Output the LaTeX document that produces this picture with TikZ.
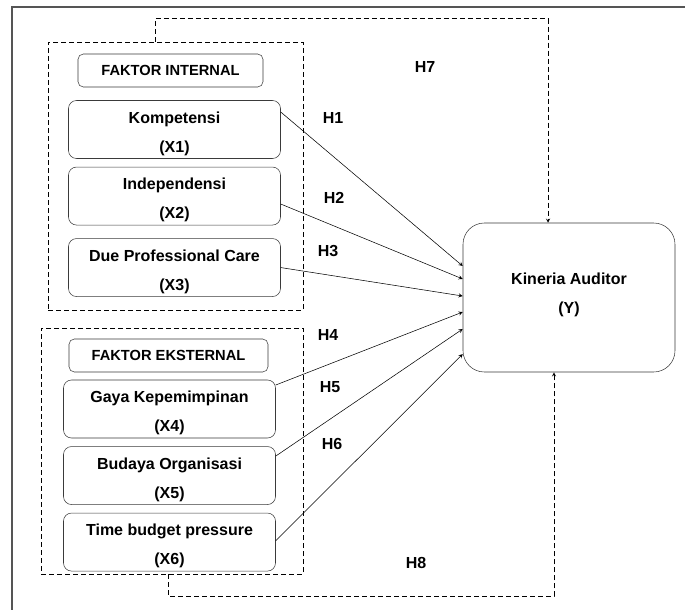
\documentclass[tikz,border=0pt]{standalone}
\usepackage{fontspec}
\setmainfont{Liberation Sans}
\usetikzlibrary{shapes, arrows, positioning, calc}
\definecolor{boxline}{HTML}{3A3A3A}
\definecolor{frameline}{HTML}{555555}

\begin{document}
\begin{tikzpicture}[
    % 1 unit = 1 px of the reference
    x=0.75pt, y=-0.75pt,
    >=stealth,
    % boxes
    head/.style={rectangle, draw=boxline, rounded corners=4pt, minimum height=24.75pt,
        font=\fontsize{11}{13}\selectfont\bfseries},
    item/.style={rectangle, draw=boxline, rounded corners=6pt, align=center,
        minimum width=159pt, minimum height=43.5pt, inner sep=1pt, text height=36.5pt,
        font=\fontsize{12}{21.75}\selectfont\bfseries},
    target/.style={rectangle, draw=boxline, rounded corners=16pt, align=center,
        minimum width=159pt, minimum height=111.75pt, text height=26pt,
        font=\fontsize{12}{21.75}\selectfont\bfseries},
    group/.style={rectangle, draw, dash pattern=on 3.75pt off 2.25pt, inner sep=0pt},
    hyp/.style={font=\fontsize{12}{14}\selectfont\bfseries},
    link/.style={->, dash pattern=on 3.75pt off 2.25pt}
]
    \useasboundingbox (0,0) rectangle (685,610);

    % --- FRAME ---
    \draw[frameline, line width=1.2pt] (12,610) -- (12,7) -- (685,7);

    % --- GROUPS ---
    \node (internal) [group, minimum width=191.25pt, minimum height=201pt] at (175.5,176) {};
    \node (external) [group, minimum width=196.5pt, minimum height=184.5pt] at (172,451) {};

    % --- FAKTOR INTERNAL ---
    \node (intlabel) [head, minimum width=138.75pt] at (170.5,70.5) {FAKTOR INTERNAL};
    \node (x1) [item] at (174.5,129.5) {Kompetensi\\(X1)};
    \node (x2) [item, below=6pt of x1] {Independensi\\(X2)};
    \node (x3) [item, below=9.75pt of x2] {Due Professional Care\\(X3)};

    % --- FAKTOR EKSTERNAL ---
    \node (extlabel) [head, minimum width=149.25pt] at (168.5,355.5) {FAKTOR EKSTERNAL};
    \node (x4) [item] at (169.5,409) {Gaya Kepemimpinan\\(X4)};
    \node (x5) [item, below=6pt of x4] {Budaya Organisasi\\(X5)};
    \node (x6) [item, below=6pt of x5] {Time budget pressure\\(X6)};

    % --- DEPENDENT ---
    \node (y) [target] at (569,297.5) {Kineria Auditor\\(Y)};

    % --- PATHS ---
    \draw[->] ([yshift=13.1pt]x1.east) -- ([yshift=23.6pt]y.west);
    \draw[->] ([yshift=-6pt]x2.east) -- ([yshift=13.9pt]y.west);
    \draw[->] (x3.east) -- ([yshift=1.1pt]y.west);
    \draw[->] ([yshift=18pt]x4.east) -- ([yshift=-10.9pt]y.west);
    \draw[->] ([yshift=14.6pt]x5.east) -- ([yshift=-23.6pt]y.west);
    \draw[->] ([yshift=1pt]x6.east) -- ([yshift=-42.4pt]y.west);

    % --- GROUP PATHS ---
    \draw[link] ([xshift=-15.4pt]internal.north) -- ++(0,-23) -| ([xshift=-15.75pt]y.north);
    \draw[link] ([xshift=-3pt]external.south) -- ++(0,22) -| ([xshift=-11.25pt]y.south);

    % --- HYPOTHESES ---
    \node (h1) [hyp] at (333,118) {H1};
    \node (h2) [hyp] at (334,198) {H2};
    \node (h3) [hyp] at (328,251) {H3};
    \node (h4) [hyp] at (328,335) {H4};
    \node (h5) [hyp] at (330,387) {H5};
    \node (h6) [hyp] at (332,444) {H6};
    \node (h7) [hyp] at (425,67) {H7};
    \node (h8) [hyp] at (416,563) {H8};

\end{tikzpicture}
\end{document}
